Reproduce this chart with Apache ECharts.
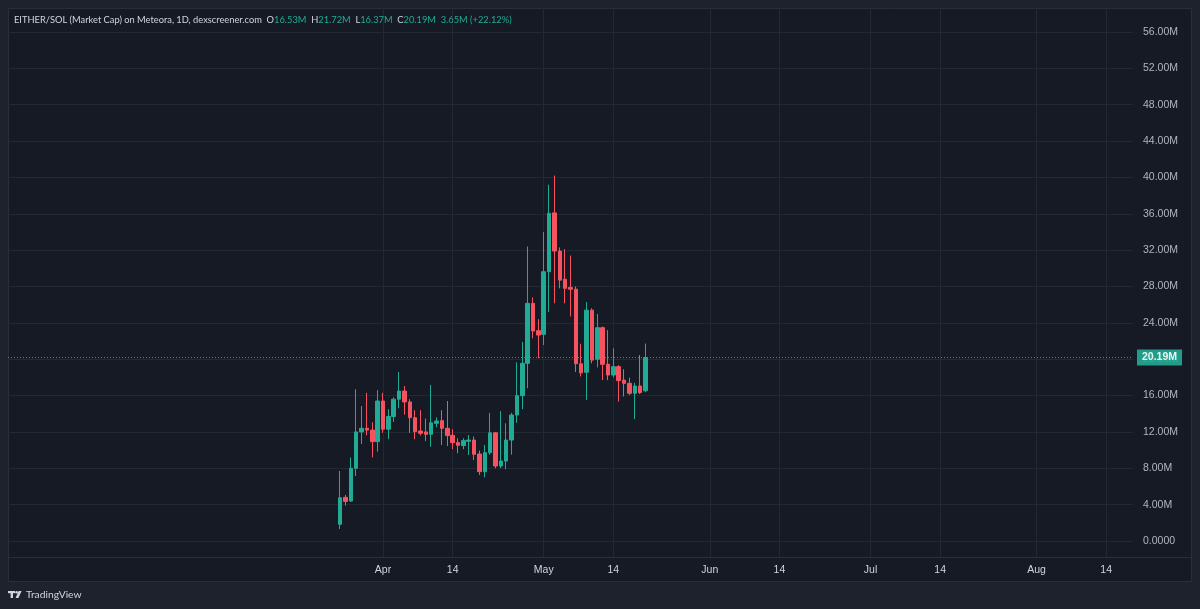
<!DOCTYPE html>
<html><head><meta charset="utf-8">
<script src="https://cdn.jsdelivr.net/npm/echarts@6/dist/echarts.min.js"></script>
<style>html,body{margin:0;padding:0;background:#1e222d;}#c{width:1200px;height:609px;}</style>
</head><body><div id="c"></div>
<script>
// ---- data ----
const axisStart = '2024-01-22';
const axisEnd = '2024-08-19';
const firstCandleDate = '2024-03-24';
const opens  = [1.84,4.8,4.4,8.0,12.0,12.4,12.2,10.93,15.4,12.3,13.7,15.6,16.5,15.3,13.57,12.1,12.0,11.74,12.95,13.24,12.4,11.63,10.82,10.49,10.97,11.11,9.57,7.63,9.72,11.9,8.25,8.8,11.11,13.86,15.99,19.55,26.15,23.14,22.74,29.63,36.1,31.9,28.8,27.9,27.7,19.5,18.56,25.4,20.0,23.47,19.44,18.26,19.18,17.7,17.35,16.25,17.05,16.53];
const highs  = [7.7,5.06,9.2,16.7,14.85,16.3,13.06,16.6,16.3,14.5,15.8,18.6,17.05,15.6,14.4,14.4,13.46,17.16,13.6,14.4,15.4,12.3,11.3,11.3,11.66,11.5,9.94,10.56,14.1,12.0,14.3,12.95,14.1,19.66,21.9,32.4,26.8,24.4,34.0,39.2,40.2,32.3,32.1,31.4,28.0,21.7,26.3,25.6,24.97,23.6,23.2,21.2,19.36,18.9,17.97,17.4,20.46,21.72];
const lows   = [1.32,3.9,4.3,7.15,10.67,11.63,9.2,9.83,11.9,11.2,13.1,14.6,13.9,11.9,11.2,11.6,11.0,10.37,12.5,10.56,10.45,10.1,9.65,10.1,9.46,8.9,7.26,7.0,9.5,8.0,8.0,7.9,9.5,13.0,14.5,16.8,22.3,20.1,21.56,25.2,26.15,27.8,26.15,24.7,18.6,18.1,15.5,19.55,19.1,17.7,17.7,18.0,15.33,15.9,16.06,13.4,16.17,16.37];
const closes = [4.76,4.35,8.0,12.0,12.4,12.2,10.93,15.4,12.3,13.7,15.6,16.5,15.3,13.57,12.03,11.85,11.74,13.0,13.2,12.4,11.6,10.82,10.53,11.04,11.11,9.54,7.63,9.72,11.9,8.25,8.8,11.11,13.86,15.99,19.55,26.15,23.1,22.66,29.63,36.05,31.9,28.7,27.8,27.7,19.5,18.5,25.4,19.9,23.47,19.44,18.26,19.18,17.64,17.35,16.25,17.05,16.32,20.19];
const yTicks = [0,4,8,12,16,20,24,28,32,36,40,44,48,52,56];
const xTickDates  = ['2024-04-01','2024-04-14','2024-05-01','2024-05-14','2024-06-01','2024-06-14','2024-07-01','2024-07-14','2024-08-01','2024-08-14'];
const xTickLabels = ['Apr','14','May','14','Jun','14','Jul','14','Aug','14'];
const lastPrice = 20.19;
const headerPair = 'EITHER/SOL (Market Cap) on Meteora, 1D, dexscreener.com';
const headerO = '16.53M', headerH = '21.72M', headerL = '16.37M', headerC = '20.19M';
const headerChange = '3.65M (+22.12%)';

// ---- build ----
function dayList(a, b) {
  const out = [];
  let t = Date.parse(a + 'T00:00:00Z');
  const e = Date.parse(b + 'T00:00:00Z');
  while (t <= e) { out.push(new Date(t).toISOString().slice(0, 10)); t += 86400000; }
  return out;
}
const days = dayList(axisStart, axisEnd);
const off = days.indexOf(firstCandleDate);
const candleData = days.map((d, i) => {
  const k = i - off;
  return (k >= 0 && k < opens.length) ? [opens[k], closes[k], lows[k], highs[k]] : '-';
});
const isTick = (i, v) => xTickDates.indexOf(v) >= 0;

const UP = '#22ab94', DOWN = '#f7525f';
const FONT = '"Liberation Sans", Arial, sans-serif';
const HFONT = 'Lato, "Liberation Sans", sans-serif';
const HS = 9.3;
const GRID_L = 8, GRID_R = 1133, GRID_T = 8, GRID_B = 557;

const chart = echarts.init(document.getElementById('c'), null, {renderer: 'canvas'});
chart.setOption({
  backgroundColor: '#1e222d',
  animation: false,
  textStyle: {fontFamily: FONT},
  title: {
    left: 14, top: 15, padding: 0,
    text: '{p|' + headerPair + '}  {k|O}{v|' + headerO + '}  {k|H}{v|' + headerH + '}  {k|L}{v|' + headerL + '}  {k|C}{v|' + headerC + '}  {v|' + headerChange + '}',
    textStyle: {
      fontSize: HS, fontWeight: 'normal', color: '#d1d4dc', fontFamily: HFONT,
      rich: {
        p: {fontSize: HS, color: '#d1d4dc', fontFamily: HFONT},
        k: {fontSize: HS, color: '#d1d4dc', fontFamily: HFONT},
        v: {fontSize: HS, color: UP, fontFamily: HFONT}
      }
    }
  },
  graphic: [
    {type: 'rect', z: -10, silent: true, shape: {x: 8.5, y: 8.5, width: 1183, height: 573},
     style: {fill: '#161a25', stroke: '#2a2e39', lineWidth: 1}},
    {type: 'line', z: 1, silent: true, shape: {x1: 8.5, y1: 557.5, x2: 1191.5, y2: 557.5},
     style: {stroke: '#2a2e39', lineWidth: 1}},
    {type: 'rect', silent: true, shape: {x: 8, y: 591, width: 7, height: 2.2}, style: {fill: '#d1d4dc'}},
    {type: 'rect', silent: true, shape: {x: 10.6, y: 591, width: 2.4, height: 7}, style: {fill: '#d1d4dc'}},
    {type: 'circle', silent: true, shape: {cx: 16.6, cy: 592.2, r: 1.3}, style: {fill: '#d1d4dc'}},
    {type: 'polygon', silent: true, shape: {points: [[18.6, 591], [21.6, 591], [18.4, 598], [15.6, 598]]}, style: {fill: '#d1d4dc'}},
    {type: 'text', silent: true, x: 26, y: 595, style: {text: 'TradingView', fill: '#d1d4dc', fontSize: 10.3, fontFamily: HFONT, verticalAlign: 'middle'}}
  ],
  grid: {left: GRID_L, right: 1200 - GRID_R, top: GRID_T, bottom: 609 - GRID_B, containLabel: false},
  xAxis: {
    type: 'category',
    data: days,
    boundaryGap: false,
    axisLine: {show: false},
    axisTick: {show: false},
    axisLabel: {
      interval: isTick,
      formatter: v => xTickLabels[xTickDates.indexOf(v)],
      color: '#d1d4dc', fontSize: 10.5, margin: 8, fontFamily: FONT
    },
    splitLine: {show: true, interval: isTick, lineStyle: {color: '#242833', width: 1}}
  },
  yAxis: {
    type: 'value',
    position: 'right',
    min: -1.76, max: 58.64,
    axisLine: {show: false},
    axisTick: {show: false, customValues: yTicks},
    axisLabel: {
      customValues: yTicks,
      formatter: v => v === 0 ? '0.0000' : v.toFixed(2) + 'M',
      color: '#b2b5be', fontSize: 10.5, margin: 10, fontFamily: FONT
    },
    splitLine: {show: true, lineStyle: {color: '#242833', width: 1}}
  },
  series: [{
    type: 'candlestick',
    data: candleData,
    barWidth: 4,
    itemStyle: {color: UP, color0: DOWN, borderColor: UP, borderColor0: DOWN, borderWidth: 1},
    markLine: {
      silent: true,
      symbol: ['none', 'none'],
      lineStyle: {color: UP, type: [1, 2], width: 1, opacity: 0.9},
      label: {
        show: true, position: 'end', distance: 4,
        formatter: lastPrice.toFixed(2) + 'M',
        backgroundColor: UP, color: '#ffffff', fontWeight: 'bold', fontSize: 10.5,
        padding: [3, 5, 2, 5], fontFamily: FONT
      },
      data: [{yAxis: lastPrice}]
    }
  }]
});
</script></body></html>
